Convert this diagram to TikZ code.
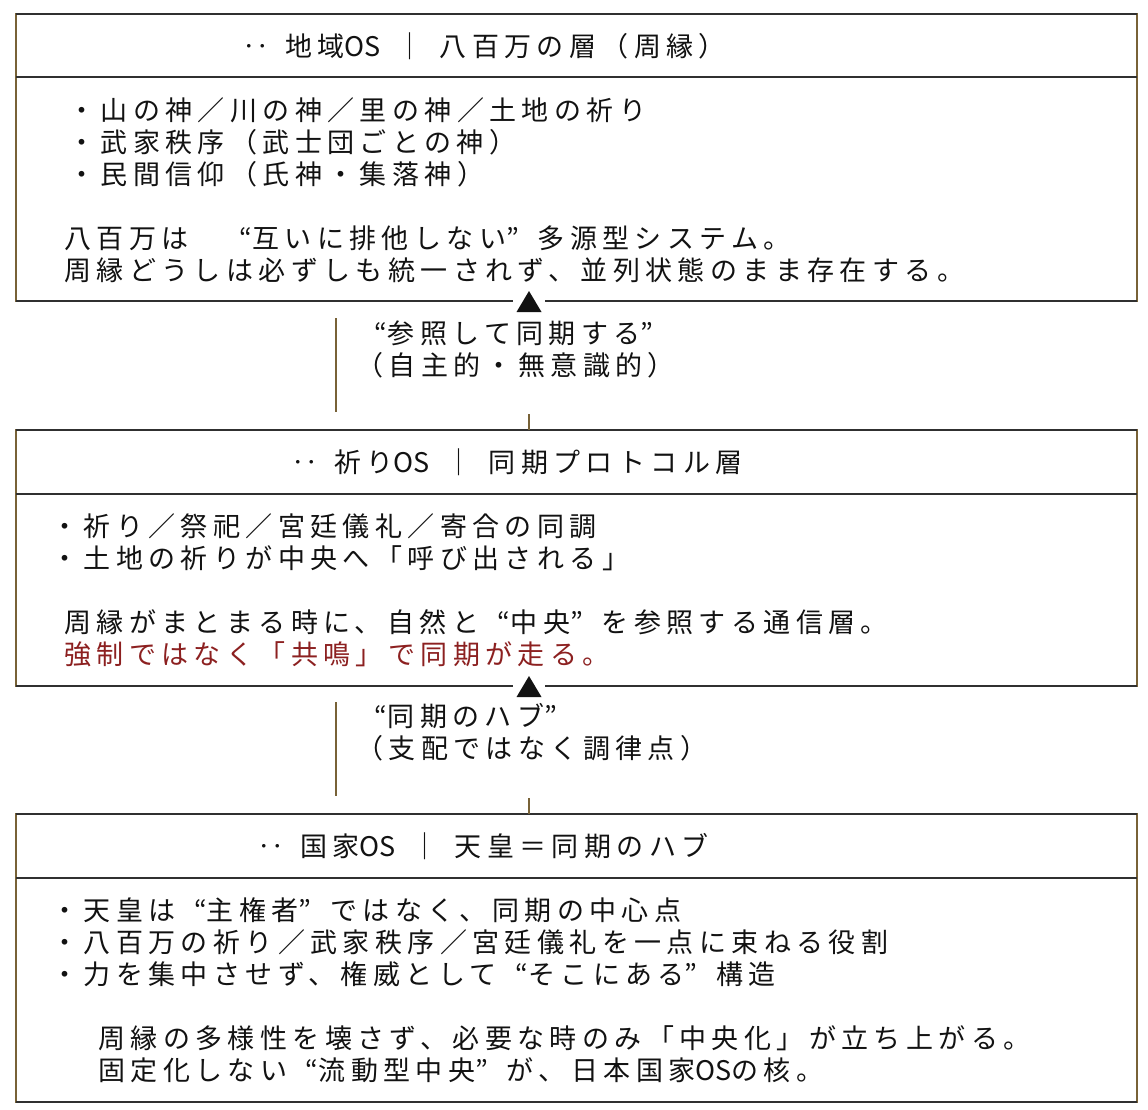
\documentclass[tikz,border=0pt]{standalone}
\usepackage{fontspec}
\setmainfont{Noto Sans CJK JP}[LetterSpace=20]
\usepackage{tikz}

\definecolor{rulegray}{RGB}{48,48,48}
\definecolor{rulebrown}{RGB}{120,98,55}
\definecolor{inkred}{RGB}{140,32,32}
\definecolor{ink}{RGB}{18,18,18}

\tikzset{
  txt/.style={anchor=west, inner sep=0pt, text=ink, text height=23pt, text depth=2pt,
    font=\fontsize{27}{32}\selectfont},
  redtxt/.style={text=inkred},
  layerbox/.style={draw=rulebrown, line width=1.7pt, inner sep=0pt, outer sep=0pt, minimum width=1121pt},
  hrule/.style={draw=rulegray, line width=2.2pt},
  vrule/.style={draw=rulebrown, line width=1.7pt},
}
\newcommand{\txtnode}[5][]{\node[txt,#1] (#2) at (#3,#4) {#5};}
\newcommand{\layerbox}[4]{%
  \node[layerbox, minimum height={(#4-#2)*1pt}] (#1) at (576.5,{(#2+#4)/2}) {};
  \draw[hrule] (#1.north west) -- (#1.north east);
  \draw[hrule] (#1.south west) -- (#1.south east);
  \draw[hrule] (#1.west |- 0,#3) -- (#1.east |- 0,#3);}
\newcommand{\oq}{\makebox[1.17em][r]{“}}
\newcommand{\cq}{\makebox[1.17em][l]{”}}
\newcommand{\hs}{\hspace{16pt}}
\newcommand{\ostag}{{\addfontfeature{LetterSpace=0}OS}}

\begin{document}
\begin{tikzpicture}[x=1pt,y=-1pt]
        \fill[white] (0,0) rectangle (1148,1109);
        \useasboundingbox (0,0) rectangle (1148,1109);
        %layers
        \layerbox{regionbox}{14}{77}{301}
        \layerbox{prayerbox}{430}{494}{686}
        \layerbox{statebox}{814}{878}{1102}
        
        %link between region and prayer
        \coordinate (tipA) at (regionbox.south -| 529,0);
        \coordinate (tickA) at (prayerbox.north -| 529,0);
        \coordinate (railA) at (336,318);
        \fill[white] (tipA) ++(-16,-4) rectangle ++(32,8);
        \fill[ink] (tipA) ++(0,-10) -- ++(-12.5,21) -- ++(25,0) -- cycle;
        \draw[vrule] (tickA) -- ++(0,-16);
        \draw[vrule] (railA) -- ++(0,94);
        %link between prayer and state
        \coordinate (tipB) at (prayerbox.south -| 529,0);
        \coordinate (tickB) at (statebox.north -| 529,0);
        \coordinate (railB) at (336,702);
        \fill[white] (tipB) ++(-16,-4) rectangle ++(32,8);
        \fill[ink] (tipB) ++(0,-10) -- ++(-12.5,21) -- ++(25,0) -- cycle;
        \draw[vrule] (tickB) -- ++(0,-16);
        \draw[vrule] (railB) -- ++(0,94);
        
        %region layer
        \txtnode{regionhead}{242}{46}{‥\hs 地域\ostag\hs ｜\hs 八百万の層（周縁）}
        \txtnode{regionA}{68}{110}{・山の神／川の神／里の神／土地の祈り}
        \txtnode{regionB}{68}{142}{・武家秩序（武士団ごとの神）}
        \txtnode{regionC}{68}{174}{・民間信仰（氏神・集落神）}
        \txtnode{regionD}{64}{238}{八百万は　\oq 互いに排他しない\cq 多源型システム。}
        \txtnode{regionE}{64}{270}{周縁どうしは必ずしも統一されず、並列状態のまま存在する。}
        
        %link labels
        \txtnode{linkAa}{356}{333}{\oq 参照して同期する\cq}
        \txtnode{linkAb}{356}{365}{（自主的・無意識的）}
        \txtnode{linkBa}{356}{716}{\oq 同期のハブ\cq}
        \txtnode{linkBb}{356}{748}{（支配ではなく調律点）}
        
        %prayer layer
        \txtnode{prayerhead}{291}{462}{‥\hs 祈り\ostag\hs ｜\hs 同期プロトコル層}
        \txtnode{prayerA}{51}{526}{・祈り／祭祀／宮廷儀礼／寄合の同調}
        \txtnode{prayerB}{51}{558}{・土地の祈りが中央へ「呼び出される」}
        \txtnode{prayerC}{64}{622}{周縁がまとまる時に、自然と\oq 中央\cq を参照する通信層。}
        \txtnode[redtxt]{prayerD}{64}{654}{強制ではなく「共鳴」で同期が走る。}
        
        %state layer
        \txtnode{statehead}{257}{846}{‥\hs 国家\ostag\hs ｜\hs 天皇＝同期のハブ}
        \txtnode{stateA}{51}{910}{・天皇は\oq 主権者\cq ではなく、同期の中心点}
        \txtnode{stateB}{51}{942}{・八百万の祈り／武家秩序／宮廷儀礼を一点に束ねる役割}
        \txtnode{stateC}{51}{974}{・力を集中させず、権威として\oq そこにある\cq 構造}
        \txtnode{stateD}{98}{1038}{周縁の多様性を壊さず、必要な時のみ「中央化」が立ち上がる。}
        \txtnode{stateE}{98}{1070}{固定化しない\oq 流動型中央\cq が、日本国家\ostag の核。}
\end{tikzpicture}
\end{document}
